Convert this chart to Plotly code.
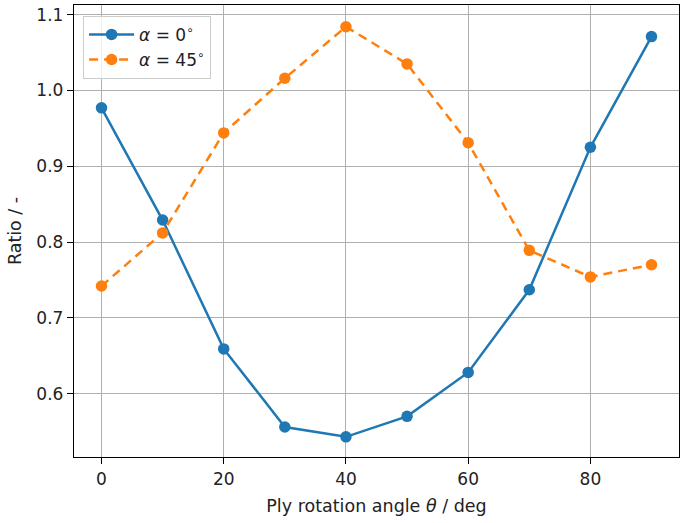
import plotly.graph_objects as go

# ángulo de rotación de la lámina (deg)
theta = [0, 10, 20, 30, 40, 50, 60, 70, 80, 90]
ratio_a0 = [0.977, 0.829, 0.659, 0.556, 0.543, 0.570, 0.628, 0.737, 0.925, 1.071]
ratio_a45 = [0.742, 0.812, 0.944, 1.016, 1.084, 1.035, 0.931, 0.789, 0.754, 0.770]

x_ticks = [0, 20, 40, 60, 80]
y_ticks = [0.6, 0.7, 0.8, 0.9, 1.0, 1.1]

fig = go.Figure()
fig.add_scatter(x=theta, y=ratio_a0, mode="lines+markers",
                name="<i>α</i> = 0<sup>∘</sup>",
                line=dict(color="#1f77b4", width=2.5),
                marker=dict(size=11.5, color="#1f77b4"))
fig.add_scatter(x=theta, y=ratio_a45, mode="lines+markers",
                name="<i>α</i> = 45<sup>∘</sup>",
                line=dict(color="#ff7f0e", width=2.5, dash="9px,6px"),
                marker=dict(size=11.5, color="#ff7f0e"))

axis_common = dict(showline=True, linecolor="black", linewidth=1.4, mirror=True,
                   ticks="outside", ticklen=6, tickwidth=1.4, tickcolor="black",
                   showgrid=True, gridcolor="#b0b0b0", gridwidth=1.4,
                   zeroline=False, automargin=False,
                   tickfont=dict(size=17, color="#222"))

fig.update_layout(
    width=685, height=523,
    margin=dict(l=74, r=6, t=5, b=66),
    paper_bgcolor="white", plot_bgcolor="white",
    font=dict(family="DejaVu Sans", size=17, color="#222"),
    xaxis=dict(range=[-4.5, 94.5], tickvals=x_ticks,
               title=dict(text="Ply rotation angle <i>θ</i> / deg", standoff=12,
                          font=dict(size=17.5)),
               **axis_common),
    yaxis=dict(range=[0.5164, 1.1127], tickvals=y_ticks, tickformat=".1f",
               title=dict(text="Ratio / -", standoff=10, font=dict(size=17.5)),
               **axis_common),
    legend=dict(x=0.015, y=0.976, xanchor="left", yanchor="top",
                bgcolor="rgba(255,255,255,0.8)", bordercolor="#cccccc", borderwidth=1,
                font=dict(size=17), itemwidth=45, tracegroupgap=4),
)

# quitar el margen por defecto del <body> para que la figura quede en (0, 0)
fig.write_html("out.html", config={"displayModeBar": False},
               post_script="document.body.style.margin='0';")
